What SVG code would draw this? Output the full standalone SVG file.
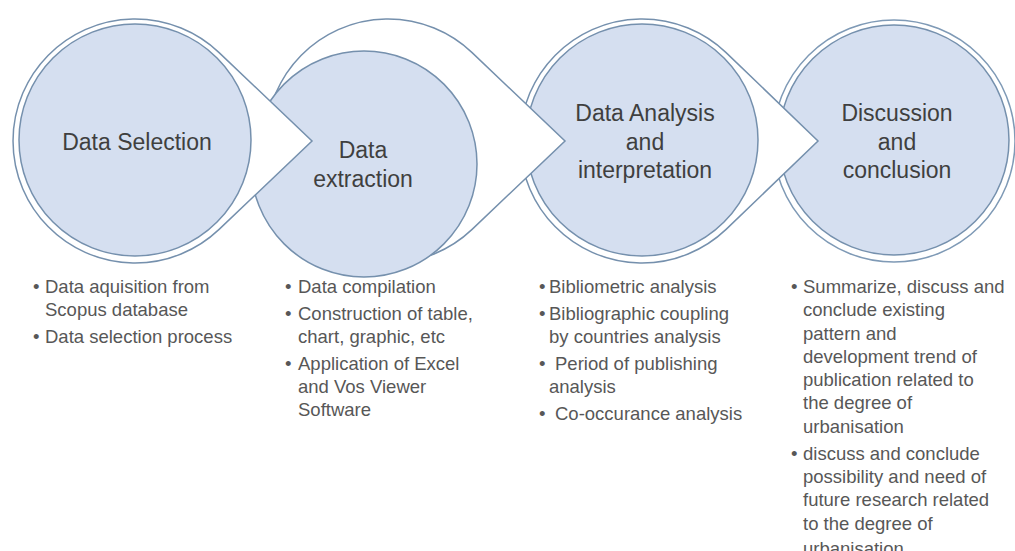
<svg xmlns="http://www.w3.org/2000/svg" width="1015" height="551" viewBox="0 0 1015 551">
<style>
.tear{fill:#ffffff;stroke:#7590ad;stroke-width:1.5}
.ring{fill:#ffffff;stroke:#7f9ab6;stroke-width:1.5}
.core{fill:#d5dff0;stroke:#7590ad;stroke-width:1.5}
.lbl{font-family:"Liberation Sans",Arial,sans-serif;font-size:23px;fill:#3f3f3f;text-anchor:middle}
.txt{font-family:"Liberation Sans",Arial,sans-serif;font-size:18.5px;fill:#575757}
</style>
<rect width="1015" height="551" fill="#ffffff"/>
<g id="node4">
  <circle class="ring" cx="894" cy="141" r="121"/>
  <circle class="core" cx="894" cy="140" r="115"/>
  <text class="lbl" x="897" y="121">Discussion</text>
  <text class="lbl" x="897" y="150">and</text>
  <text class="lbl" x="897" y="178">conclusion</text>
</g>
<g id="node3">
  <path class="tear" d="M726.1,52.6 L818,141 L726.1,229.4 A122,122 0 1 1 726.1,52.6 Z"/>
  <circle class="core" cx="642" cy="140" r="116"/>
  <text class="lbl" x="645" y="121">Data Analysis</text>
  <text class="lbl" x="645" y="150">and</text>
  <text class="lbl" x="645" y="178">interpretation</text>
</g>
<g id="node2">
  <path class="tear" d="M472.1,52.6 L565,141 L472.1,229.4 A122,122 0 1 1 472.1,52.6 Z"/>
  <circle class="core" cx="364" cy="164" r="113"/>
  <text class="lbl" x="363" y="158">Data</text>
  <text class="lbl" x="363" y="187">extraction</text>
</g>
<g id="node1">
  <path class="tear" d="M219.1,52.6 L312,141 L219.1,229.4 A122,122 0 1 1 219.1,52.6 Z"/>
  <circle class="core" cx="135" cy="140" r="116"/>
  <text class="lbl" x="137" y="150">Data Selection</text>
</g>
<g id="connectors"></g>
<g id="list1" class="txt">
  <text x="33" y="293">•</text><text x="45" y="293">Data aquisition from</text>
  <text x="45" y="316">Scopus database</text>
  <text x="33" y="343">•</text><text x="45" y="343">Data selection process</text>
</g>
<g id="list2" class="txt">
  <text x="285" y="293">•</text><text x="298" y="293">Data compilation</text>
  <text x="285" y="320">•</text><text x="298" y="320">Construction of table,</text>
  <text x="298" y="343">chart, graphic, etc</text>
  <text x="285" y="370">•</text><text x="298" y="370">Application of Excel</text>
  <text x="298" y="393">and Vos Viewer</text>
  <text x="298" y="416">Software</text>
</g>
<g id="list3" class="txt">
  <text x="539" y="293">•</text><text x="549" y="293">Bibliometric analysis</text>
  <text x="539" y="320">•</text><text x="549" y="320">Bibliographic coupling</text>
  <text x="549" y="343">by countries analysis</text>
  <text x="539" y="370">•</text><text x="555" y="370">Period of publishing</text>
  <text x="549" y="393">analysis</text>
  <text x="539" y="420">•</text><text x="555" y="420">Co-occurance analysis</text>
</g>
<g id="list4" class="txt">
  <text x="791" y="293">•</text><text x="803" y="293">Summarize, discuss and</text>
  <text x="803" y="316">conclude existing</text>
  <text x="803" y="340">pattern and</text>
  <text x="803" y="363">development trend of</text>
  <text x="803" y="386">publication related to</text>
  <text x="803" y="409">the degree of</text>
  <text x="803" y="433">urbanisation</text>
  <text x="791" y="460">•</text><text x="803" y="460">discuss and conclude</text>
  <text x="803" y="483">possibility and need of</text>
  <text x="803" y="506">future research related</text>
  <text x="803" y="530">to the degree of</text>
  <text x="803" y="555">urbanisation</text>
</g>
</svg>
